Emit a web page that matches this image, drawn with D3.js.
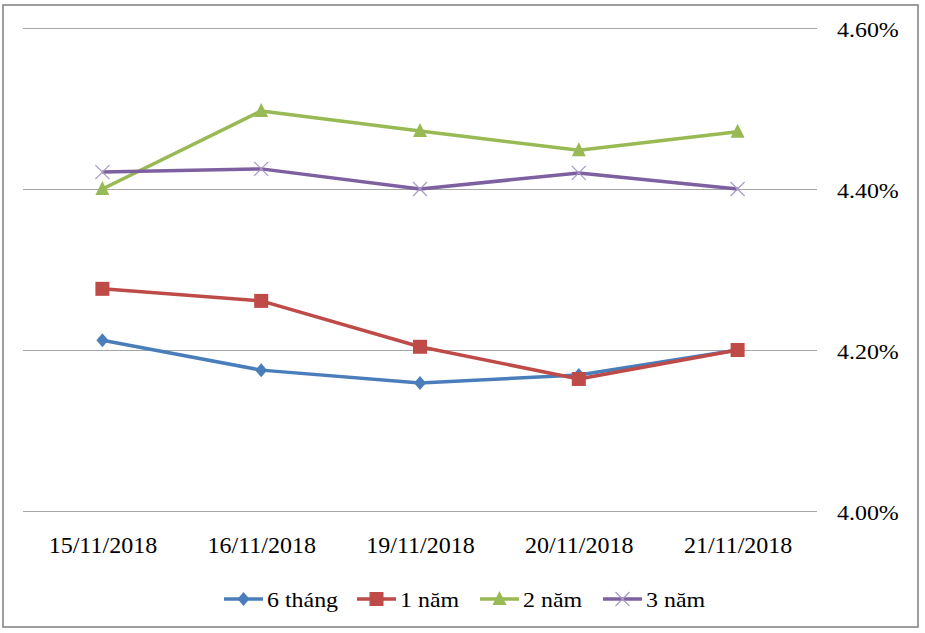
<!DOCTYPE html>
<html><head><meta charset="utf-8">
<script src="https://cdn.jsdelivr.net/npm/d3@7"></script>
</head><body style="margin:0">
<script>
const categories = ["15/11/2018","16/11/2018","19/11/2018","20/11/2018","21/11/2018"];
const s6thang = [4.212,4.175,4.159,4.169,4.200];
const s1nam   = [4.276,4.261,4.204,4.164,4.200];
const s2nam   = [4.400,4.497,4.472,4.448,4.471];
const s3nam   = [4.421,4.425,4.400,4.420,4.400];
const seriesNames = ["6 tháng","1 năm","2 năm","3 năm"];
const yTicks = [4.00,4.20,4.40,4.60];

const FONT='"Liberation Serif"';
const W=925,H=633;
const svg=d3.select("body").append("svg").attr("width",W).attr("height",H).style("font-family",FONT).style("display","block");
svg.append("rect").attr("x",3).attr("y",5).attr("width",915).attr("height",622).attr("fill","#fff").attr("stroke","#868686").attr("stroke-width",1.6);

const plotL=23, plotR=817;
const x=d3.scalePoint().domain(categories).range([plotL,plotR]).padding(0.5);
const y=d3.scaleLinear().domain([4.0,4.6]).range([511,28]);

// gridlines
svg.append("g").selectAll("line").data(yTicks).join("line")
  .attr("x1",plotL).attr("x2",plotR).attr("y1",d=>Math.round(y(d))+0.5).attr("y2",d=>Math.round(y(d))+0.5)
  .attr("stroke","#a6a6a6").attr("stroke-width",1.2);

// y axis labels (right side)
const ya=d3.axisRight(y).tickValues(yTicks).tickSize(0).tickFormat(d=>d.toFixed(2)+"%");
const gy=svg.append("g").attr("transform",`translate(${plotR},0)`).call(ya);
gy.attr("font-family",null).attr("font-size",null);
gy.select(".domain").remove();
gy.selectAll("text").attr("x",0).attr("dy",8.5)
  .attr("transform","translate(20,0) scale(1.14,1)")
  .style("font-family",FONT).attr("font-size",21).attr("fill","#000");

// x axis labels
const xa=d3.axisBottom(x).tickSize(0);
const gx=svg.append("g").attr("transform","translate(0,511)").call(xa);
gx.attr("font-family",null).attr("font-size",null);
gx.select(".domain").remove();
gx.selectAll("text").attr("y",42).attr("dy",0)
  .style("font-family",FONT).attr("font-size",24).attr("fill","#000");

const series=[
 {name:seriesNames[0],vals:s6thang,color:"#4a7ebb",marker:"diamond"},
 {name:seriesNames[1],vals:s1nam,color:"#be4b48",marker:"square"},
 {name:seriesNames[2],vals:s2nam,color:"#98b954",marker:"triangle"},
 {name:seriesNames[3],vals:s3nam,color:"#7d60a0",marker:"x"}
];
function drawMarker(g,type,color,cx,cy){
  if(type==="diamond"){
    g.append("path").attr("d",`M${cx},${cy-7}L${cx+6},${cy}L${cx},${cy+7}L${cx-6},${cy}Z`).attr("fill",color);
  } else if(type==="square"){
    g.append("rect").attr("x",cx-7).attr("y",cy-7).attr("width",14).attr("height",14).attr("fill",color);
  } else if(type==="triangle"){
    g.append("path").attr("d",`M${cx},${cy-8}L${cx+7},${cy+6}L${cx-7},${cy+6}Z`).attr("fill",color);
  } else {
    g.append("path").attr("d",`M${cx-7},${cy-7}L${cx+7},${cy+7}M${cx+7},${cy-7}L${cx-7},${cy+7}`).attr("stroke","#a99bc7").attr("stroke-width",1.3).attr("fill","none");
  }
}
const line=d3.line().x((d,i)=>x(categories[i])).y(d=>y(d));
series.forEach(s=>{
  const g=svg.append("g");
  g.append("path").datum(s.vals).attr("d",line).attr("fill","none").attr("stroke",s.color).attr("stroke-width",3.5).attr("stroke-linejoin","round");
  s.vals.forEach((v,i)=>drawMarker(g,s.marker,s.color,x(categories[i]),y(v)));
});

// legend
const legX=[224,357,480,603];
series.forEach((s,i)=>{
  const g=svg.append("g");
  const lx=legX[i], ly=599;
  g.append("line").attr("x1",lx).attr("x2",lx+39).attr("y1",ly).attr("y2",ly).attr("stroke",s.color).attr("stroke-width",3.5);
  drawMarker(g,s.marker,s.color,lx+19.5,ly);
  g.append("text").attr("transform",`translate(${lx+43},${ly+8}) scale(1.14,1)`)
    .style("font-family",FONT).attr("font-size",21).attr("fill","#000").text(s.name);
});
</script>
</body></html>
